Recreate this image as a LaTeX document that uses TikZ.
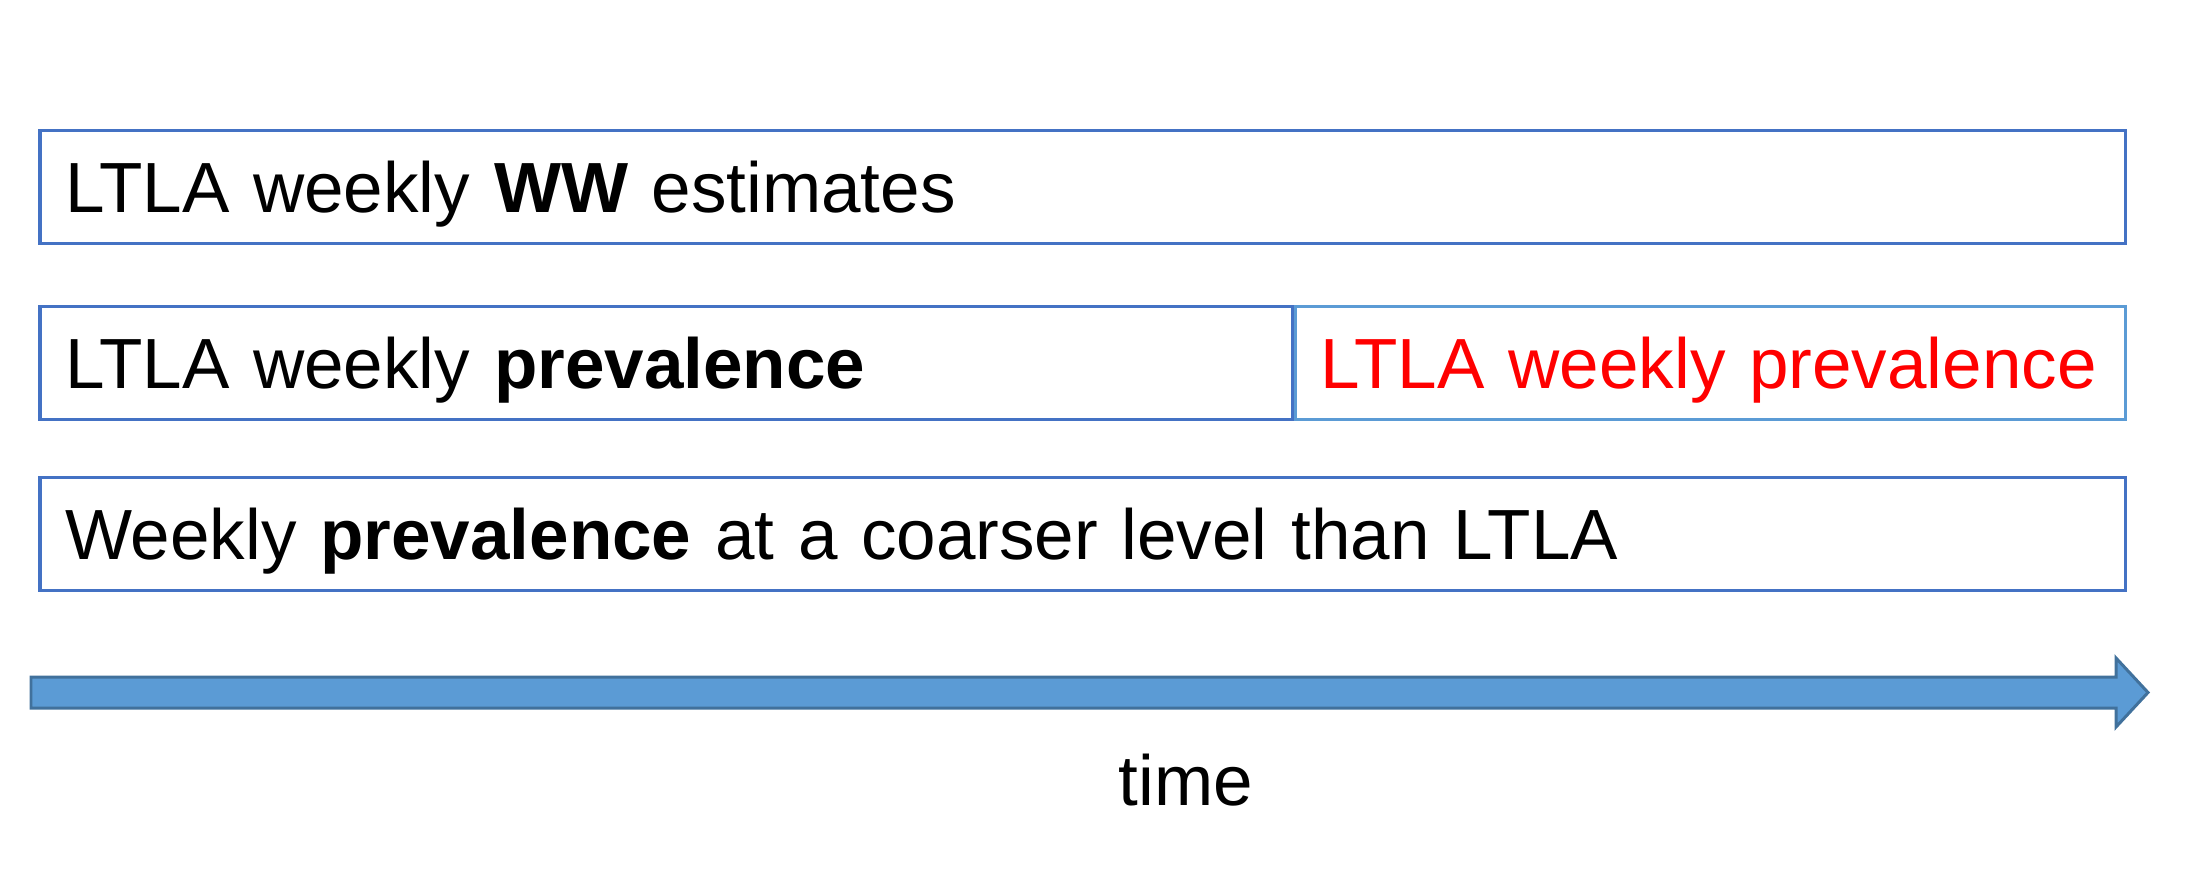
\documentclass[tikz,border=0pt]{standalone}
\usepackage{fontspec}
\setmainfont{Liberation Sans}
\usepackage{xcolor}
\usetikzlibrary{positioning}

\definecolor{boxblue}{HTML}{4472C4}
\definecolor{lightblue}{HTML}{5B9BD5}
\definecolor{arrowedge}{HTML}{41719C}

\begin{document}
\begin{tikzpicture}[x=0.01cm, y=-0.01cm,
        box/.style={draw=boxblue, line width=0.95pt, rectangle, minimum height=1.13cm, outer sep=0pt,
            inner xsep=0.25cm, inner ysep=0pt, align=left, text height=0.51cm, text depth=0pt,
            font=\fontsize{20.2}{24}\selectfont},
        futurebox/.style={box, draw=lightblue, line width=0.75pt, text=red}
    ]
        \useasboundingbox (0,0) rectangle (2191,875);

        \node[box, text width=20.34cm, anchor=north west] (ww) at (40,130.5) {LTLA weekly \textbf{WW} estimates};
        \node[box, text width=12.015cm, below=0.63cm of ww.south west, anchor=north west] (prev) {LTLA weekly \textbf{prevalence}};
        \node[futurebox, text width=7.8cm, right=0.03cm of prev] (prevfut) {LTLA weekly prevalence};
        \node[box, text width=20.34cm, below=0.58cm of prev.south west, anchor=north west] (coarse) {Weekly \textbf{prevalence} at a coarser level than LTLA};

        % time axis
        \coordinate (tstart) at (31,692.5);
        \coordinate (tend) at (2148,692.5);
        \draw[fill=lightblue, draw=arrowedge, line width=0.85pt, line join=miter]
            (tstart) ++(0,-15.5) -- (2116,677) -- (2116,658) -- (tend)
            -- (2116,727) -- (2116,708) -- (31,708) -- cycle;
        \node[anchor=base, font=\fontsize{20.2}{24}\selectfont] (time) at (1186,805) {time};
    \end{tikzpicture}
\end{document}
